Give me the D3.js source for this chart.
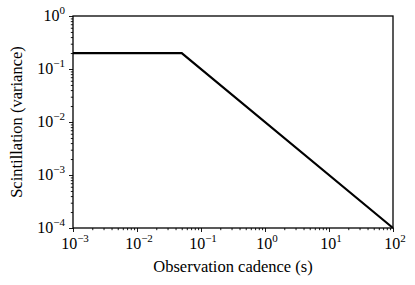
<!DOCTYPE html>
<html>
<head>
<meta charset="utf-8">
<script src="https://cdn.jsdelivr.net/npm/d3@7"></script>
<style>
body { margin: 0; background: #fff; }
text { font-family: "Liberation Serif", "DejaVu Serif", serif; fill: #000; }
</style>
</head>
<body>
<div class="chart"></div>
<script>
// cadence (s) and scintillation variance at the curve's corners
var cadence = [0.001, 0.05, 100]
var variance = [0.2, 0.2, 0.0001]
var xTicks = [-3, -2, -1, 0, 1, 2]
var yTicks = [-4, -3, -2, -1, 0]

var W = 415, H = 285
var m = { top: 16, right: 22, bottom: 57, left: 73 }

var svg = d3.select('.chart')
    .append('svg')
    .attr('width', W)
    .attr('height', H)

var x = d3.scaleLog().domain([1e-3, 1e2]).range([m.left, W - m.right])
var y = d3.scaleLog().domain([1e-4, 1e0]).range([H - m.bottom, m.top])

function minors(lo, hi) {
    var out = []
    for (var e = lo; e < hi; e++)
        for (var k = 2; k < 10; k++) out.push(k * Math.pow(10, e))
    return out
}

// minor ticks
svg.append('g')
    .attr('transform', 'translate(0,' + (H - m.bottom) + ')')
    .call(d3.axisBottom(x).tickValues(minors(-3, 2)).tickSize(2.2).tickFormat(''))
    .call(g => g.select('.domain').remove())
svg.append('g')
    .attr('transform', 'translate(' + m.left + ',0)')
    .call(d3.axisLeft(y).tickValues(minors(-4, 0)).tickSize(2.2).tickFormat(''))
    .call(g => g.select('.domain').remove())

// major ticks
var xa = svg.append('g')
    .attr('transform', 'translate(0,' + (H - m.bottom) + ')')
    .call(d3.axisBottom(x).tickValues(xTicks.map(e => Math.pow(10, e))).tickSize(4).tickFormat(''))
xa.select('.domain').remove()
var ya = svg.append('g')
    .attr('transform', 'translate(' + m.left + ',0)')
    .call(d3.axisLeft(y).tickValues(yTicks.map(e => Math.pow(10, e))).tickSize(4).tickFormat(''))
ya.select('.domain').remove()
svg.selectAll('.tick line').attr('stroke', '#000').attr('stroke-width', 0.9)

function sup(t, e) {
    t.append('tspan').text('10')
    t.append('tspan').attr('dy', -7).attr('font-size', 11)
        .text(e < 0 ? '\u2212' + (-e) : e)
}

xTicks.forEach(function (e) {
    var t = svg.append('text')
        .attr('x', x(Math.pow(10, e)) + 2)
        .attr('y', H - m.bottom + 21)
        .attr('text-anchor', 'middle')
        .attr('font-size', 16)
    sup(t, e)
})
yTicks.forEach(function (e) {
    var t = svg.append('text')
        .attr('x', m.left - 8)
        .attr('y', y(Math.pow(10, e)) + 5)
        .attr('text-anchor', 'end')
        .attr('font-size', 16)
    sup(t, e)
})

// frame
svg.append('rect')
    .attr('x', m.left)
    .attr('y', m.top)
    .attr('width', W - m.right - m.left)
    .attr('height', H - m.bottom - m.top)
    .attr('fill', 'none')
    .attr('stroke', '#000')
    .attr('stroke-width', 1.3)

var line = d3.line()
    .x(d => x(d[0]))
    .y(d => y(d[1]))

svg.append('path')
    .datum(d3.zip(cadence, variance))
    .attr('d', line)
    .attr('fill', 'none')
    .attr('stroke', '#000')
    .attr('stroke-width', 2.2)

svg.append('text')
    .attr('x', (m.left + W - m.right) / 2)
    .attr('y', 272)
    .attr('text-anchor', 'middle')
    .attr('font-size', 16.5)
    .text('Observation cadence (s)')

svg.append('text')
    .attr('transform', 'translate(22,' + ((m.top + H - m.bottom) / 2) + ') rotate(-90)')
    .attr('text-anchor', 'middle')
    .attr('font-size', 16.5)
    .text('Scintillation (variance)')
</script>
</body>
</html>
